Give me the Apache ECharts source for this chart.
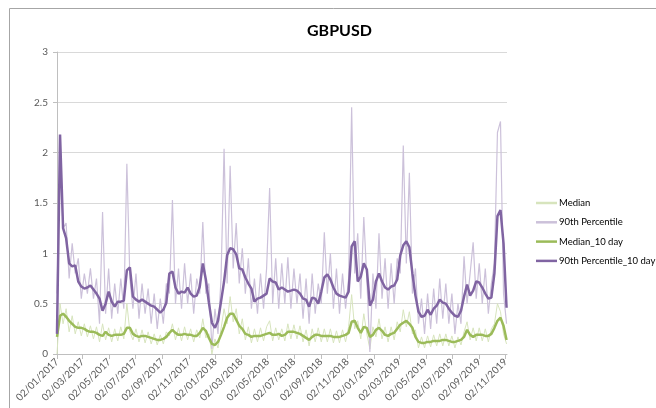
<!DOCTYPE html>
<html>
<head>
<meta charset="utf-8">
<script src="https://cdn.jsdelivr.net/npm/echarts@6/dist/echarts.min.js"></script>
<style>
  html, body { margin: 0; padding: 0; background: #ffffff; }
  #chart { width: 656px; height: 408px; }
</style>
</head>
<body>
<div id="chart"></div>
<script>
// weekly readings, first week starts 02/01/2017
const startDay = [2017, 0, 2]
const tickLabels = ['02/01/2017', '02/03/2017', '02/05/2017', '02/07/2017', '02/09/2017', '02/11/2017',
  '02/01/2018', '02/03/2018', '02/05/2018', '02/07/2018', '02/09/2018', '02/11/2018',
  '02/01/2019', '02/03/2019', '02/05/2019', '02/07/2019', '02/09/2019', '02/11/2019']

const median = [
  0.0, 0.5, 0.3, 0.45, 0.22, 0.38, 0.2, 0.32, 0.18, 0.3,
  0.17, 0.28, 0.15, 0.27, 0.12, 0.3, 0.14, 0.26, 0.12, 0.25,
  0.13, 0.27, 0.15, 0.5, 0.22, 0.14, 0.25, 0.12, 0.24, 0.11,
  0.22, 0.1, 0.2, 0.09, 0.19, 0.1, 0.22, 0.18, 0.3, 0.14,
  0.26, 0.13, 0.27, 0.14, 0.25, 0.12, 0.24, 0.16, 0.35, 0.16,
  0.2, 0.0, 0.15, 0.06, 0.25, 0.45, 0.3, 0.57, 0.32, 0.45,
  0.2, 0.35, 0.14, 0.27, 0.11, 0.25, 0.12, 0.26, 0.13, 0.27,
  0.33, 0.13, 0.26, 0.14, 0.25, 0.13, 0.3, 0.15, 0.29, 0.15,
  0.28, 0.12, 0.24, 0.08, 0.25, 0.12, 0.26, 0.12, 0.25, 0.12,
  0.25, 0.11, 0.23, 0.11, 0.24, 0.12, 0.27, 0.59, 0.25, 0.33,
  0.15, 0.4, 0.2, 0.05, 0.27, 0.17, 0.35, 0.15, 0.27, 0.12,
  0.27, 0.14, 0.32, 0.22, 0.44, 0.27, 0.42, 0.2, 0.24, 0.06,
  0.17, 0.06, 0.18, 0.07, 0.19, 0.08, 0.2, 0.08, 0.2, 0.08,
  0.18, 0.06, 0.17, 0.09, 0.22, 0.32, 0.14, 0.26, 0.13, 0.26,
  0.13, 0.25, 0.12, 0.25, 0.3, 0.5, 0.42, 0.2, 0.1
]
const pct90 = [
  0.6, 2.0, 1.25, 1.3, 0.75, 1.1, 0.8, 0.95, 0.55, 0.8,
  0.6, 0.85, 0.55, 0.75, 0.3, 1.41, 0.4, 0.85, 0.35, 0.7,
  0.4, 0.75, 0.45, 1.89, 0.75, 0.45, 0.8, 0.35, 0.7, 0.4,
  0.65, 0.3, 0.6, 0.25, 0.55, 0.3, 0.7, 0.6, 1.53, 0.5,
  0.85, 0.45, 0.9, 0.5, 0.8, 0.4, 0.75, 0.6, 1.31, 0.6,
  0.7, 0.05, 0.45, 0.2, 0.75, 2.04, 0.7, 1.87, 0.85, 1.3,
  0.7, 1.05, 0.6, 0.95, 0.45, 0.75, 0.4, 0.8, 0.45, 0.85,
  1.65, 0.5, 0.95, 0.45, 0.9, 0.5, 0.96, 0.45, 0.85, 0.5,
  0.8, 0.35, 0.75, 0.3, 0.8, 0.4, 0.7, 0.5, 1.21, 0.6,
  1.0, 0.45, 0.85, 0.4, 0.8, 0.45, 0.75, 2.45, 0.8, 1.2,
  0.55, 1.36, 0.75, 0.02, 0.8, 0.45, 1.2, 0.55, 0.95, 0.45,
  0.9, 0.5, 0.95, 0.8, 2.07, 0.9, 1.8, 0.6, 0.85, 0.3,
  0.55, 0.2, 0.6, 0.25, 0.65, 0.3, 0.75, 0.35, 0.7, 0.3,
  0.6, 0.2, 0.5, 0.3, 0.97, 0.5, 0.8, 1.11, 0.55, 0.9,
  0.5, 0.85, 0.4, 0.7, 0.9, 2.2, 2.31, 0.6, 0.3
]
const median10 = [
  0.17, 0.38, 0.4, 0.37, 0.33, 0.3, 0.27, 0.26, 0.26, 0.25,
  0.23, 0.22, 0.22, 0.21, 0.19, 0.18, 0.22, 0.19, 0.18, 0.19,
  0.19, 0.19, 0.2, 0.26, 0.26, 0.2, 0.18, 0.17, 0.18, 0.18,
  0.17, 0.16, 0.15, 0.14, 0.14, 0.15, 0.17, 0.21, 0.24, 0.21,
  0.19, 0.19, 0.2, 0.19, 0.19, 0.18, 0.18, 0.21, 0.26, 0.23,
  0.16, 0.1, 0.09, 0.12, 0.19, 0.27, 0.36, 0.4, 0.4, 0.34,
  0.28, 0.25, 0.2, 0.19, 0.17, 0.18, 0.18, 0.18, 0.19, 0.2,
  0.21, 0.19, 0.19, 0.2, 0.18, 0.19, 0.22, 0.22, 0.22, 0.21,
  0.2, 0.18, 0.16, 0.14, 0.17, 0.19, 0.19, 0.18, 0.18, 0.18,
  0.18, 0.17, 0.17, 0.17, 0.18, 0.19, 0.21, 0.32, 0.33, 0.26,
  0.21, 0.27, 0.26, 0.17, 0.19, 0.24, 0.26, 0.23, 0.19, 0.18,
  0.2, 0.21, 0.25, 0.29, 0.31, 0.33, 0.3, 0.26, 0.17, 0.12,
  0.11, 0.11, 0.12, 0.12, 0.13, 0.13, 0.13, 0.14, 0.14, 0.13,
  0.12, 0.12, 0.13, 0.14, 0.17, 0.24, 0.19, 0.17, 0.19, 0.19,
  0.19, 0.18, 0.18, 0.2, 0.26, 0.33, 0.36, 0.28, 0.14
]
const pct90_10 = [
  0.2, 2.18, 1.25, 1.15, 0.9, 0.87, 0.88, 0.72, 0.67, 0.65,
  0.66, 0.68, 0.64, 0.6, 0.55, 0.43, 0.5, 0.62, 0.52, 0.47,
  0.52, 0.52, 0.53, 0.83, 0.86, 0.57, 0.54, 0.52, 0.54, 0.52,
  0.5, 0.48, 0.47, 0.44, 0.41, 0.44, 0.51, 0.8, 0.82, 0.66,
  0.6, 0.62, 0.61, 0.66, 0.6, 0.57, 0.58, 0.67, 0.9, 0.74,
  0.51, 0.31, 0.26, 0.33, 0.52, 0.72, 0.98, 1.05, 1.04, 0.99,
  0.85, 0.84, 0.76, 0.7, 0.65, 0.52, 0.55, 0.56, 0.58, 0.6,
  0.75, 0.72, 0.71, 0.64, 0.66, 0.64, 0.62, 0.63, 0.64, 0.63,
  0.6, 0.55, 0.54, 0.47, 0.56, 0.55, 0.5, 0.62, 0.76, 0.79,
  0.74, 0.66, 0.6, 0.58, 0.57, 0.56, 0.62, 1.07, 1.12, 0.72,
  0.77, 0.9, 0.84, 0.48, 0.54, 0.72, 0.8, 0.72, 0.66, 0.64,
  0.67, 0.68, 0.74, 0.98, 1.08, 1.12, 1.06, 0.8, 0.58, 0.42,
  0.37, 0.38, 0.44, 0.39, 0.45, 0.48, 0.54, 0.51, 0.5, 0.45,
  0.41, 0.38, 0.37, 0.43, 0.57, 0.69, 0.58, 0.63, 0.72, 0.71,
  0.66, 0.6, 0.55, 0.56, 0.8, 1.37, 1.43, 1.1, 0.46
]

const dates = median.map((v, i) => +new Date(startDay[0], startDay[1], startDay[2] + 7 * i))
const tickTimes = tickLabels.map(s => {
  const p = s.split('/')
  return +new Date(+p[2], +p[1] - 1, +p[0])
})
const zip = arr => arr.map((v, i) => [dates[i], v])
const pad = n => (n < 10 ? '0' : '') + n
const font = 'Lato, "Open Sans", sans-serif'

const chart = echarts.init(document.getElementById('chart'))
chart.setOption({
  animation: false,
  backgroundColor: '#ffffff',
  textStyle: { fontFamily: font },
  graphic: [{
    type: 'rect',
    shape: { x: 9.5, y: 8.5, width: 700, height: 500 },
    style: { fill: 'none', stroke: '#a6a6a6', lineWidth: 1 },
    silent: true
  }],
  title: {
    text: 'GBPUSD',
    left: 302,
    top: 18,
    textStyle: { fontSize: 16, fontWeight: 'bold', color: '#000000', fontFamily: font }
  },
  legend: {
    orient: 'vertical',
    left: 531,
    top: 192,
    icon: 'rect',
    itemWidth: 21,
    itemHeight: 2.5,
    itemGap: 7.3,
    textStyle: { fontSize: 9.5, lineHeight: 12, color: '#000000', fontFamily: font, padding: [0, 0, 0, -3] }
  },
  grid: {
    left: 57,
    right: 149,
    top: 52,
    bottom: 54
  },
  xAxis: {
    // dates as timestamps on a value axis so ticks can sit on the 2nd of every other month
    type: 'value',
    min: tickTimes[0],
    max: +new Date(2019, 10, 5),
    axisLine: { lineStyle: { color: '#bfbfbf' } },
    axisTick: { show: true, customValues: tickTimes, length: 5, lineStyle: { color: '#bfbfbf' } },
    axisLabel: {
      customValues: tickTimes,
      rotate: 45,
      margin: 6,
      fontSize: 10,
      color: '#595959',
      fontFamily: font,
      formatter: function(v) {
        const d = new Date(v)
        return pad(d.getDate()) + '/' + pad(d.getMonth() + 1) + '/' + d.getFullYear()
      }
    },
    splitLine: { show: false }
  },
  yAxis: {
    type: 'value',
    min: 0,
    max: 3,
    interval: 0.5,
    axisLine: { show: true, lineStyle: { color: '#bfbfbf' } },
    axisTick: { show: true, length: 4, lineStyle: { color: '#bfbfbf' } },
    axisLabel: { fontSize: 10, color: '#595959', margin: 9, fontFamily: font },
    splitLine: { lineStyle: { color: '#d9d9d9' } }
  },
  series: [
    {
      name: 'Median',
      type: 'line',
      symbol: 'none',
      color: '#d7e4bd',
      lineStyle: { width: 1, color: '#d7e4bd' },
      data: zip(median)
    },
    {
      name: '90th Percentile',
      type: 'line',
      symbol: 'none',
      color: '#ccc1da',
      lineStyle: { width: 1.2, color: '#ccc1da' },
      data: zip(pct90)
    },
    {
      name: 'Median_10 day',
      type: 'line',
      symbol: 'none',
      color: '#9bbb59',
      lineStyle: { width: 2.5, color: '#9bbb59' },
      data: zip(median10)
    },
    {
      name: '90th Percentile_10 day',
      type: 'line',
      symbol: 'none',
      color: '#8064a2',
      lineStyle: { width: 2.5, color: '#8064a2' },
      data: zip(pct90_10)
    }
  ]
})
</script>
</body>
</html>
